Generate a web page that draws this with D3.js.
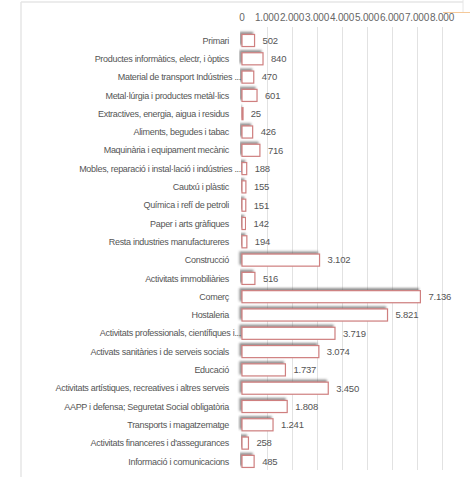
<!DOCTYPE html>
<html>
<head>
<meta charset="utf-8">
<script src="https://cdn.jsdelivr.net/npm/d3@7"></script>
<style>
  body { margin: 0; background: #fff; }
  svg { display: block; font-family: "Liberation Sans", Arial, sans-serif; }
</style>
</head>
<body>
<div id="chart"></div>
<script>
// sectors (Catalan labels as shown, truncated ones keep their "...")
const categories = [
    'Primari',
    'Productes informàtics, electr, i òptics',
    'Material de transport Indústries ...',
    'Metal·lúrgia i productes metàl·lics',
    'Extractives, energia, aigua i residus',
    'Aliments, begudes i tabac',
    'Maquinària i equipament mecànic',
    'Mobles, reparació i instal·lació i indústries ...',
    'Cautxú i plàstic',
    'Química i refí de petroli',
    'Paper i arts gràfiques',
    'Resta industries manufactureres',
    'Construcció',
    'Activitats immobiliàries',
    'Comerç',
    'Hostaleria',
    'Activitats professionals, científiques i...',
    'Activats sanitàries i de serveis socials',
    'Educació',
    'Activitats artístiques, recreatives i altres serveis',
    'AAPP i defensa; Seguretat Social obligatòria',
    'Transports i magatzematge',
    'Activitats financeres i d\'assegurances',
    'Informació i comunicacions'
];
const values = [502, 840, 470, 601, 25, 426, 716, 188, 155, 151, 142, 194,
    3102, 516, 7136, 5821, 3719, 3074, 1737, 3450, 1808, 1241, 258, 485];
const tickValues = [0, 1000, 2000, 3000, 4000, 5000, 6000, 7000, 8000];

const width = 470, height = 478;
const locale = d3.formatLocale({ decimal: ',', thousands: '.', grouping: [3], currency: ['', ' €'] });
const fmt = locale.format(',d');

const svg = d3.select('#chart').append('svg')
    .attr('width', width)
    .attr('height', height);

const defs = svg.append('defs');
const shadow = defs.append('filter').attr('id', 'shadow')
    .attr('x', '-10%').attr('y', '-60%').attr('width', '120%').attr('height', '200%');
shadow.append('feDropShadow')
    .attr('dx', -2).attr('dy', -2)
    .attr('stdDeviation', 1.3)
    .attr('flood-color', '#444')
    .attr('flood-opacity', 0.6);

// panel frame
svg.append('line').attr('x1', 21).attr('y1', 2).attr('x2', 463).attr('y2', 2)
    .attr('stroke', '#e6e6e6').attr('stroke-width', 1.5);
svg.append('line').attr('x1', 21).attr('y1', 2).attr('x2', 21).attr('y2', 477)
    .attr('stroke', '#e6e6e6').attr('stroke-width', 1.5);
svg.append('line').attr('x1', 463).attr('y1', 0).attr('x2', 463).attr('y2', 12)
    .attr('stroke', '#e6e6e6').attr('stroke-width', 1);
svg.append('line').attr('x1', 443).attr('y1', 12.5).attr('x2', 470).attr('y2', 12.5)
    .attr('stroke', '#f5c99a').attr('stroke-width', 1);

const x = d3.scaleLinear().domain([0, 8000]).range([242, 442]);
const y = d3.scaleBand().domain(categories).range([31.35, 470.55]).paddingInner(0.34).paddingOuter(0.17);

// gridlines
svg.append('g').selectAll('line')
    .data(tickValues.slice(1))
    .enter().append('line')
    .attr('x1', d => x(d) + 0.5)
    .attr('x2', d => x(d) + 0.5)
    .attr('y1', 27)
    .attr('y2', 470)
    .attr('stroke', '#e2e2e2')
    .attr('stroke-width', 1);

// tick labels on top
svg.append('g').selectAll('text')
    .data(tickValues)
    .enter().append('text')
    .attr('x', d => x(d))
    .attr('y', 17)
    .attr('dy', '0.35em')
    .attr('text-anchor', 'middle')
    .attr('font-size', 10)
    .attr('letter-spacing', -0.2)
    .attr('fill', '#666')
    .text(d => fmt(d));

// bars
svg.append('g').selectAll('rect')
    .data(values)
    .enter().append('rect')
    .attr('x', x(0))
    .attr('y', (d, i) => y(categories[i]))
    .attr('width', d => Math.max(x(d) - x(0), 1))
    .attr('height', y.bandwidth())
    .attr('fill', '#fff')
    .attr('stroke', '#cf7f7f')
    .attr('stroke-width', 1.2)
    .attr('filter', 'url(#shadow)');

// value labels
svg.append('g').selectAll('text')
    .data(values)
    .enter().append('text')
    .attr('x', d => x(d) + 8)
    .attr('y', (d, i) => y(categories[i]) + y.bandwidth() / 2)
    .attr('dy', '0.35em')
    .attr('font-size', 9.5)
    .attr('letter-spacing', -0.2)
    .attr('fill', '#555')
    .text(d => fmt(d));

// category labels
svg.append('g').selectAll('text')
    .data(categories)
    .enter().append('text')
    .attr('x', d => d.endsWith('...') ? 241 : 229)
    .attr('y', d => y(d) + y.bandwidth() / 2)
    .attr('dy', '0.35em')
    .attr('text-anchor', 'end')
    .attr('font-size', 9)
    .attr('letter-spacing', -0.3)
    .attr('fill', '#555')
    .text(d => d);
</script>
</body>
</html>
